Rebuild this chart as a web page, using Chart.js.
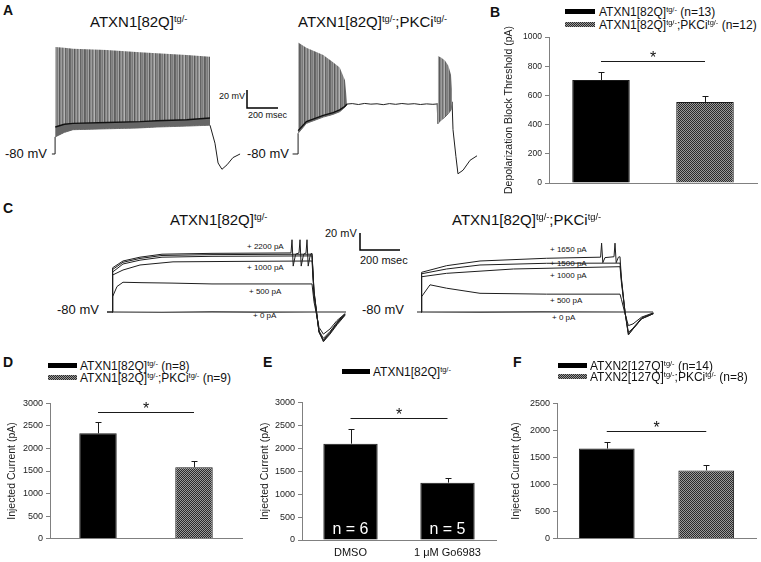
<!DOCTYPE html>
<html>
<head>
<meta charset="utf-8">
<script src="https://cdn.jsdelivr.net/npm/chart.js@4.4.1/dist/chart.umd.min.js"></script>
<style>
  body { margin: 0; background: #fff; }
  #fig { position: relative; width: 761px; height: 562px; overflow: hidden;
         font-family: "Liberation Sans", Arial, sans-serif; color: #111; }
  #fig canvas { position: absolute; }
  .t { position: absolute; white-space: nowrap; line-height: 1; }
  .t sup { font-size: 0.62em; vertical-align: 0; position: relative; top: -0.5em; }
  .letter { font-weight: bold; font-size: 14px; }
  .ttl { font-size: 15px; }
  .mv { font-size: 13px; }
  .sb { font-size: 9px; }
  .sbc { font-size: 11px; }
  .pa { font-size: 8px; }
  .lg { font-size: 12px; }
  .sw { position: absolute; height: 5px; background: #000; }
  .sw.ck { background: repeating-conic-gradient(#2a2a2a 0% 25%, #9a9a9a 0% 50%) 0 0 / 2px 2px; }
</style>
</head>
<body>
<div id="fig">
  <!-- panel letters -->
  <div class="t letter" style="left:3px;top:3px">A</div>
  <div class="t letter" style="left:490px;top:5px">B</div>
  <div class="t letter" style="left:3px;top:201px">C</div>
  <div class="t letter" style="left:3px;top:355px">D</div>
  <div class="t letter" style="left:263px;top:355px">E</div>
  <div class="t letter" style="left:513px;top:355px">F</div>

  <!-- A -->
  <div class="t ttl" style="left:90px;top:14px">ATXN1[82Q]<sup>tg/-</sup></div>
  <div class="t ttl" style="left:298px;top:14px">ATXN1[82Q]<sup>tg/-</sup>;PKCi<sup>tg/-</sup></div>
  <div class="t mv" style="left:5px;top:147px">-80 mV</div>
  <div class="t mv" style="left:247px;top:147px">-80 mV</div>
  <div class="t sb" style="left:219px;top:92px">20 mV</div>
  <div class="t sb" style="left:248px;top:111px">200 msec</div>
  <canvas id="a1" width="250" height="150" style="left:40px;top:30px"></canvas>
  <canvas id="a2" width="205" height="150" style="left:285px;top:30px"></canvas>

  <!-- B -->
  <div class="sw" style="left:565px;top:9px;width:30px"></div>
  <div class="t lg" style="left:599px;top:6px">ATXN1[82Q]<sup>tg/-</sup> (n=13)</div>
  <div class="sw ck" style="left:565px;top:22px;width:30px"></div>
  <div class="t lg" style="left:599px;top:19px">ATXN1[82Q]<sup>tg/-</sup>;PKCi<sup>tg/-</sup> (n=12)</div>
  <canvas id="b" width="266" height="185" style="left:495px;top:15px"></canvas>

  <!-- C -->
  <div class="t ttl" style="left:170px;top:212px">ATXN1[82Q]<sup>tg/-</sup></div>
  <div class="t ttl" style="left:452px;top:212px">ATXN1[82Q]<sup>tg/-</sup>;PKCi<sup>tg/-</sup></div>
  <div class="t mv" style="left:57px;top:303px">-80 mV</div>
  <div class="t mv" style="left:362px;top:303px">-80 mV</div>
  <div class="t sbc" style="left:325px;top:228px">20 mV</div>
  <div class="t sbc" style="left:360px;top:255px">200 msec</div>
  <div class="t pa" style="left:247px;top:243px">+ 2200 pA</div>
  <div class="t pa" style="left:247px;top:264px">+ 1000 pA</div>
  <div class="t pa" style="left:249px;top:288px">+ 500 pA</div>
  <div class="t pa" style="left:253px;top:312px">+ 0 pA</div>
  <div class="t pa" style="left:550px;top:246px">+ 1650 pA</div>
  <div class="t pa" style="left:550px;top:260px">+ 1500 pA</div>
  <div class="t pa" style="left:550px;top:272px">+ 1000 pA</div>
  <div class="t pa" style="left:550px;top:297px">+ 500 pA</div>
  <div class="t pa" style="left:552px;top:314px">+ 0 pA</div>
  <canvas id="c1" width="320" height="125" style="left:100px;top:225px"></canvas>
  <canvas id="c2" width="260" height="125" style="left:405px;top:225px"></canvas>

  <!-- D -->
  <div class="sw" style="left:48px;top:363px;width:29px"></div>
  <div class="t lg" style="left:80px;top:360px">ATXN1[82Q]<sup>tg/-</sup> (n=8)</div>
  <div class="sw ck" style="left:48px;top:375px;width:29px"></div>
  <div class="t lg" style="left:80px;top:372px">ATXN1[82Q]<sup>tg/-</sup>;PKCi<sup>tg/-</sup> (n=9)</div>
  <canvas id="d" width="250" height="152" style="left:0px;top:395px"></canvas>

  <!-- E -->
  <div class="sw" style="left:342px;top:369px;width:28px"></div>
  <div class="t lg" style="left:373px;top:366px">ATXN1[82Q]<sup>tg/-</sup></div>
  <canvas id="e" width="245" height="168" style="left:255px;top:394px"></canvas>

  <!-- F -->
  <div class="sw" style="left:558px;top:363px;width:29px"></div>
  <div class="t lg" style="left:590px;top:360px">ATXN2[127Q]<sup>tg/-</sup> (n=14)</div>
  <div class="sw ck" style="left:558px;top:374px;width:29px"></div>
  <div class="t lg" style="left:590px;top:371px">ATXN2[127Q]<sup>tg/-</sup>;PKCi<sup>tg/-</sup> (n=8)</div>
  <canvas id="f" width="256" height="152" style="left:505px;top:395px"></canvas>
</div>

<script>
// ---- A: current-clamp traces (ms from pulse onset, mV)
const a1PreT = [-20, 0, 0.5];
const a1PreV = [-80, -80, -61];
const a1EnvT = [2, 60, 116, 335, 548, 658, 850, 1000];
const a1TopV = [39, 38, 37, 35.5, 33, 32, 30, 28];
const a1BotV = [-61, -56, -53, -52, -51, -50, -49, -48];
const a1MidV = [-50, -47, -46, -45, -44, -43, -42, -40];
const a1PostT = [1000, 1032, 1052, 1077, 1110, 1148, 1194];
const a1PostV = [-48, -68, -90, -97, -92, -84, -80];

const a2PreT = [-35, 0, 0.5];
const a2PreV = [-80, -80, -57];
const a2EnvT = [1, 54, 163, 226, 269, 303, 316];
const a2TopV = [44, 38, 30, 22, 16, 2, -22];
const a2BotV = [-57, -46, -39, -36, -33, -28, -25];
const a2MidV = [-54, -44, -37, -34, -31, -27, -24.5];
const a2FlatT = [316, 350, 390, 430, 470, 510, 550, 590, 630, 670, 710, 750, 790, 830, 870, 897];
const a2FlatV = [-24.5, -24, -25, -23.8, -24.6, -24.2, -25.2, -24, -24.8, -23.9, -24.6, -24.1, -25, -24.3, -24.8, -24.4];
const a2BurstT = [897, 903, 925, 948, 970, 987, 994];
const a2BurstTopV = [-24, 29, 27, 24, 18, 8, -9];
const a2BurstBotV = [-24, -46, -42, -39, -35, -31, -22];
const a2PostT = [994, 1000, 1019, 1032, 1065, 1110, 1155];
const a2PostV = [-22, -53, -83, -102, -98, -87, -82];

// ---- C: step traces
const c1T0 = [-25, 0, 250, 500, 750, 1000, 1170];
const c1V0 = [-80, -80, -80.3, -79.8, -80.2, -80, -80];
const c1T500 = [-25, 0, 3, 25, 55, 150, 300, 500, 750, 1000, 1010, 1035, 1057, 1090, 1125, 1165];
const c1V500 = [-80, -80, -62, -50, -45, -45.5, -46, -47, -47, -47, -68, -98, -106, -100, -90, -82];
const c1T1000 = [0, 3, 55, 140, 305, 600, 1000, 1010, 1035, 1057, 1090, 1125, 1165];
const c1V1000 = [-80, -36.5, -30.6, -24.7, -21, -20.5, -20, -60, -102, -111, -103, -92, -82];
const c1T1500 = [0, 3, 55, 140, 250, 500, 1000, 1010, 1035, 1057, 1090, 1125, 1165];
const c1V1500 = [-80, -33, -23.5, -19, -15.5, -14.5, -14, -58, -104, -113, -104, -93, -83];
const c1V2000 = [-80, -30, -21.5, -17, -13.5, -12.5, -12, -56, -103, -114, -105, -94, -83];
const c1T2200 = [0, 3, 55, 140, 250, 500, 895, 900, 906, 918, 935, 940, 946, 958, 970, 975, 981, 992, 1000, 1010, 1035, 1057, 1090, 1125, 1165];
const c1V2200 = [-80, -28, -20, -15.5, -12, -11, -10.5, 5, -26, -12, -10.5, 5, -26, -12, -10.5, 5, -26, -12, -11, -55, -103, -115, -106, -95, -84];

const c2T0 = [-20, 0, 300, 600, 1000, 1160];
const c2V0 = [-80, -80, -80.2, -79.8, -80, -80];
const c2T500 = [0, 3, 45, 128, 295, 628, 995, 1002, 1020, 1037, 1060, 1103, 1162];
const c2V500 = [-80, -62, -48, -52, -58, -59, -59, -65, -82, -96, -94, -86, -81];
const c2T1000 = [0, 3, 128, 462, 995, 1002, 1020, 1037, 1060, 1103, 1162];
const c2V1000 = [-80, -38.5, -34.5, -29.4, -26.7, -45, -80, -104, -99, -87, -81.5];
const c2T1500 = [0, 3, 128, 295, 628, 995, 1002, 1020, 1037, 1060, 1103, 1162];
const c2V1500 = [-80, -35, -29.4, -24.7, -22.7, -22.5, -42, -80, -106, -100, -88, -82];
const c2T1650 = [0, 3, 128, 295, 628, 898, 903, 909, 920, 965, 970, 976, 987, 995, 1002, 1020, 1037, 1060, 1103, 1162];
const c2V1650 = [-80, -33.3, -25.5, -20, -16.8, -15.5, 1, -22, -16, -15, 1, -22, -15.5, -15, -40, -80, -107, -100, -88, -82];

// ---- bar panels
const bGroups = ["ATXN1[82Q]tg/-", "ATXN1[82Q]tg/-;PKCitg/-"];
const bValues = [705, 555];
const bErrors = [55, 41];
const bSig = 835;

const dGroups = ["ATXN1[82Q]tg/-", "ATXN1[82Q]tg/-;PKCitg/-"];
const dValues = [2335, 1585];
const dErrors = [250, 145];
const dSig = 2820;

const eGroups = ["DMSO", "1 \u03bcM Go6983"];
const eValues = [2100, 1250];
const eErrors = [325, 100];
const eSig = 2650;
const eCounts = ["n = 6", "n = 5"];

const fGroups = ["ATXN2[127Q]tg/-", "ATXN2[127Q]tg/-;PKCitg/-"];
const fValues = [1665, 1260];
const fErrors = [130, 97];
const fSig = 1990;

Chart.defaults.font.family = '"Liberation Sans", Arial, sans-serif';
Chart.defaults.color = "#222";
Chart.defaults.devicePixelRatio = 1;
Chart.defaults.animation = false;

const FONT = '"Liberation Sans", Arial, sans-serif';

function xy(ts, vs) {
  return ts.map((t, i) => ({ x: t, y: vs[i] }));
}

function line(ts, vs, color, width, extra) {
  return Object.assign({
    data: xy(ts, vs),
    borderColor: color || "#1e1e1e",
    borderWidth: width || 1,
    pointRadius: 0,
    fill: false,
    tension: 0,
  }, extra || {});
}

// vertical-streak texture for the dense spike trains
function streakPattern() {
  const c = document.createElement("canvas");
  const shades = ["#6a6a6a", "#8c8c8c", "#7b7b7b", "#a4a4a4", "#5a5a5a", "#888888", "#9c9c9c",
                  "#707070", "#919191", "#b3b3b3", "#646464", "#858585", "#7f7f7f", "#999999", "#606060"];
  c.width = shades.length; c.height = 1;
  const g = c.getContext("2d");
  shades.forEach((s, i) => { g.fillStyle = s; g.fillRect(i, 0, 1, 1); });
  return g.createPattern(c, "repeat");
}

function checkerPattern() {
  const c = document.createElement("canvas");
  c.width = 2; c.height = 2;
  const g = c.getContext("2d");
  g.fillStyle = "#9a9a9a"; g.fillRect(0, 0, 2, 2);
  g.fillStyle = "#2a2a2a"; g.fillRect(0, 0, 1, 1); g.fillRect(1, 1, 1, 1);
  return g.createPattern(c, "repeat");
}

// 20 mV / 200 ms scale bar, sized through the chart's own scales
const scaleBar = {
  id: "scaleBar",
  afterDatasetsDraw(chart, args, opts) {
    if (!opts || opts.t == null) return;
    const { ctx, scales: { x, y } } = chart;
    const x0 = x.getPixelForValue(opts.t);
    const x1 = x.getPixelForValue(opts.t + opts.dt);
    const y0 = y.getPixelForValue(opts.v);
    const y1 = y.getPixelForValue(opts.v + opts.dv);
    ctx.save();
    ctx.strokeStyle = "#000";
    ctx.lineWidth = 1.5;
    ctx.beginPath();
    ctx.moveTo(x0, y1);
    ctx.lineTo(x0, y0);
    ctx.lineTo(x1, y0);
    ctx.stroke();
    ctx.restore();
  },
};

function traceChart(id, tRange, vRange, datasets, bar) {
  return new Chart(document.getElementById(id), {
    type: "line",
    data: { datasets },
    plugins: [scaleBar],
    options: {
      responsive: false,
      layout: { padding: 0 },
      plugins: { legend: { display: false }, tooltip: { enabled: false }, scaleBar: bar || {} },
      scales: {
        x: { type: "linear", display: false, min: tRange[0], max: tRange[1] },
        y: { display: false, min: vRange[0], max: vRange[1] },
      },
    },
  });
}

const streak = streakPattern();
const checker = checkerPattern();

// A1: 0.155 px/ms, 0.9 px/mV
traceChart("a1", [-96.8, 1516.1], [-108.9, 57.8], [
  line(a1EnvT, a1MidV, "#111", 1.4, { fill: 2, backgroundColor: "#666" }),
  line(a1EnvT, a1TopV, "rgba(0,0,0,0)", 0, { fill: 2, backgroundColor: streak }),
  line(a1EnvT, a1BotV, "#7a7a7a", 1),
  line(a1PreT, a1PreV),
  line(a1PostT, a1PostV),
], { t: 1238.7, v: -28.9, dt: 200, dv: 20 });

// A2
traceChart("a2", [-83.9, 1238.7], [-108.9, 57.8], [
  line(a2EnvT, a2MidV, "#111", 1.4, { fill: 2, backgroundColor: "#666" }),
  line(a2EnvT, a2TopV, "rgba(0,0,0,0)", 0, { fill: 2, backgroundColor: streak }),
  line(a2EnvT, a2BotV, "#7a7a7a", 1),
  line(a2BurstT, a2BurstTopV, "rgba(0,0,0,0)", 0, { fill: 4, backgroundColor: streak }),
  line(a2BurstT, a2BurstBotV, "#555", 1),
  line(a2PreT, a2PreV),
  line(a2FlatT, a2FlatV, "#222", 1),
  line(a2PostT, a2PostV),
]);

// C1: 0.2 px/ms, 0.85 px/mV
traceChart("c1", [-60, 1540], [-124.7, 22.35], [
  line(c1T0, c1V0, "#222", 1.2),
  line(c1T500, c1V500),
  line(c1T1000, c1V1000),
  line(c1T1500, c1V1500),
  line(c1T1500, c1V2000),
  line(c1T2200, c1V2200),
], { t: 1240, v: -7.06, dt: 200, dv: 20 });

// C2
traceChart("c2", [-80, 1220], [-124.7, 22.35], [
  line(c2T0, c2V0, "#222", 1.2),
  line(c2T500, c2V500),
  line(c2T1000, c2V1000),
  line(c2T1500, c2V1500),
  line(c2T1650, c2V1650),
]);

// error bars, significance line and in-bar counts
const barExtras = {
  id: "barExtras",
  afterDatasetsDraw(chart, args, opts) {
    const { ctx } = chart;
    const y = chart.scales.y;
    const bars = chart.getDatasetMeta(0).data;
    const vals = chart.data.datasets[0].data;
    ctx.save();
    ctx.strokeStyle = "#1a1a1a";
    ctx.lineWidth = 1;
    bars.forEach((bar, i) => {
      const top = Math.round(y.getPixelForValue(vals[i] + opts.errors[i])) + 0.5;
      const x = Math.round(bar.x) + 0.5;
      ctx.beginPath();
      ctx.moveTo(x, bar.y);
      ctx.lineTo(x, top);
      ctx.moveTo(x - 3, top);
      ctx.lineTo(x + 3, top);
      ctx.stroke();
    });
    const ys = Math.round(y.getPixelForValue(opts.sig)) + 0.5;
    ctx.beginPath();
    ctx.moveTo(bars[0].x, ys);
    ctx.lineTo(bars[1].x, ys);
    ctx.stroke();
    ctx.fillStyle = "#111";
    ctx.font = `16px ${FONT}`;
    ctx.textAlign = "center";
    ctx.textBaseline = "alphabetic";
    ctx.fillText("*", (bars[0].x + bars[1].x) / 2, ys + 1);
    if (opts.counts) {
      ctx.fillStyle = "#fff";
      ctx.font = `16px ${FONT}`;
      ctx.textBaseline = "middle";
      bars.forEach((bar, i) => ctx.fillText(opts.counts[i], bar.x, bar.base - 10));
    }
    ctx.restore();
  },
};

function barChart(id, cfg) {
  return new Chart(document.getElementById(id), {
    type: "bar",
    plugins: [barExtras],
    data: {
      labels: cfg.labels,
      datasets: [{
        data: cfg.values,
        backgroundColor: cfg.colors,
        borderColor: "#1a1a1a",
        borderWidth: 1,
        barPercentage: cfg.barPct,
        categoryPercentage: 1,
      }],
    },
    options: {
      responsive: false,
      layout: { padding: cfg.pad },
      plugins: {
        legend: { display: false },
        tooltip: { enabled: false },
        barExtras: { errors: cfg.errors, sig: cfg.sig, counts: cfg.counts },
      },
      scales: {
        x: {
          grid: { display: false, drawTicks: false },
          border: { display: true, color: "#808080" },
          ticks: { display: !!cfg.showX, color: "#111", font: { size: 11 }, padding: 6 },
          afterFit: (s) => { s.height = cfg.xh; },
        },
        y: {
          min: 0,
          max: cfg.max,
          ticks: {
            stepSize: cfg.step, color: "#222", font: { size: cfg.tickSize }, padding: 3,
            callback: (v) => String(v),
          },
          grid: { drawOnChartArea: false, tickLength: 4, color: "#808080" },
          border: { color: "#808080" },
          title: {
            display: true, text: cfg.yTitle, color: "#222",
            font: { size: 10.5 }, padding: { top: cfg.titlePad, bottom: 0 },
          },
          afterFit: (s) => { s.width = cfg.yw; },
        },
      },
    },
  });
}

barChart("b", {
  labels: bGroups, values: bValues, errors: bErrors, sig: bSig,
  colors: ["#000", checker], barPct: 0.553, max: 1000, step: 200, tickSize: 8.5,
  yTitle: "Depolarization Block Threshold (pA)", yw: 54, titlePad: 8,
  pad: { top: 22, right: 4, left: 0, bottom: 12 }, xh: 5,
});

barChart("d", {
  labels: dGroups, values: dValues, errors: dErrors, sig: dSig,
  colors: ["#000", checker], barPct: 0.39, max: 3000, step: 500, tickSize: 9,
  yTitle: "Injected Current (pA)", yw: 50, titlePad: 6,
  pad: { top: 7, right: 8, left: 0, bottom: 0 }, xh: 5,
});

barChart("e", {
  labels: eGroups, values: eValues, errors: eErrors, sig: eSig, counts: eCounts,
  colors: ["#000", "#000"], barPct: 0.56, max: 3000, step: 500, tickSize: 9,
  yTitle: "Injected Current (pA)", yw: 47, titlePad: 4, showX: true,
  pad: { top: 7, right: 4, left: 0, bottom: 0 }, xh: 22,
});

barChart("f", {
  labels: fGroups, values: fValues, errors: fErrors, sig: fSig,
  colors: ["#000", checker], barPct: 0.56, max: 2500, step: 500, tickSize: 9,
  yTitle: "Injected Current (pA)", yw: 52, titlePad: 5,
  pad: { top: 7, right: 5, left: 0, bottom: 0 }, xh: 5,
});
</script>
</body>
</html>
